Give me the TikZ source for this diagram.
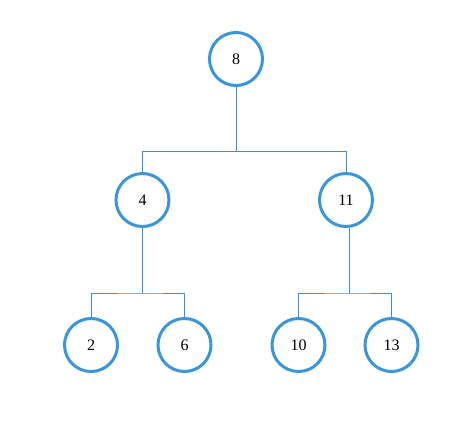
\documentclass[tikz,border=0pt]{standalone}
\usepackage{fontspec}
\setmainfont{Liberation Serif}
\definecolor{ringblue}{HTML}{3A96DB}
\definecolor{lineblue}{HTML}{3A8FD5}
\begin{document}
\begin{tikzpicture}[x=1pt,y=-1pt,
  treenode/.style={circle,draw=ringblue,line width=3pt,minimum size=53pt,inner sep=0pt,fill=white,font=\fontsize{16}{16}\selectfont},
  link/.style={draw=lineblue,line width=1pt}]
\useasboundingbox (0,0) rectangle (476,440);
\node[treenode] (n8) at (236,59) {8};
\node[treenode] (n4) at (142.5,200) {4};
\node[treenode] (n11) at (346,200) {11};
\node[treenode] (n2) at (91,345) {2};
\node[treenode] (n6) at (184.5,345) {6};
\node[treenode] (n10) at (298.5,345) {10};
\node[treenode] (n13) at (391.5,345) {13};
\coordinate (b8) at (236,151.5);
\coordinate (b4) at (142.5,293);
\coordinate (b11) at (349,293);
\draw[link] (n8.south) -- (b8);
\draw[link] (n4.north) |- (b8) -| (n11.north);
\draw[link] (n4.south) -- (b4);
\draw[link] (n2.north) |- (b4) -| (n6.north);
\draw[link] ([xshift=3pt]n11.south) -- (b11);
\draw[link] (n10.north) |- (b11) -| (n13.north);
\end{tikzpicture}
\end{document}
